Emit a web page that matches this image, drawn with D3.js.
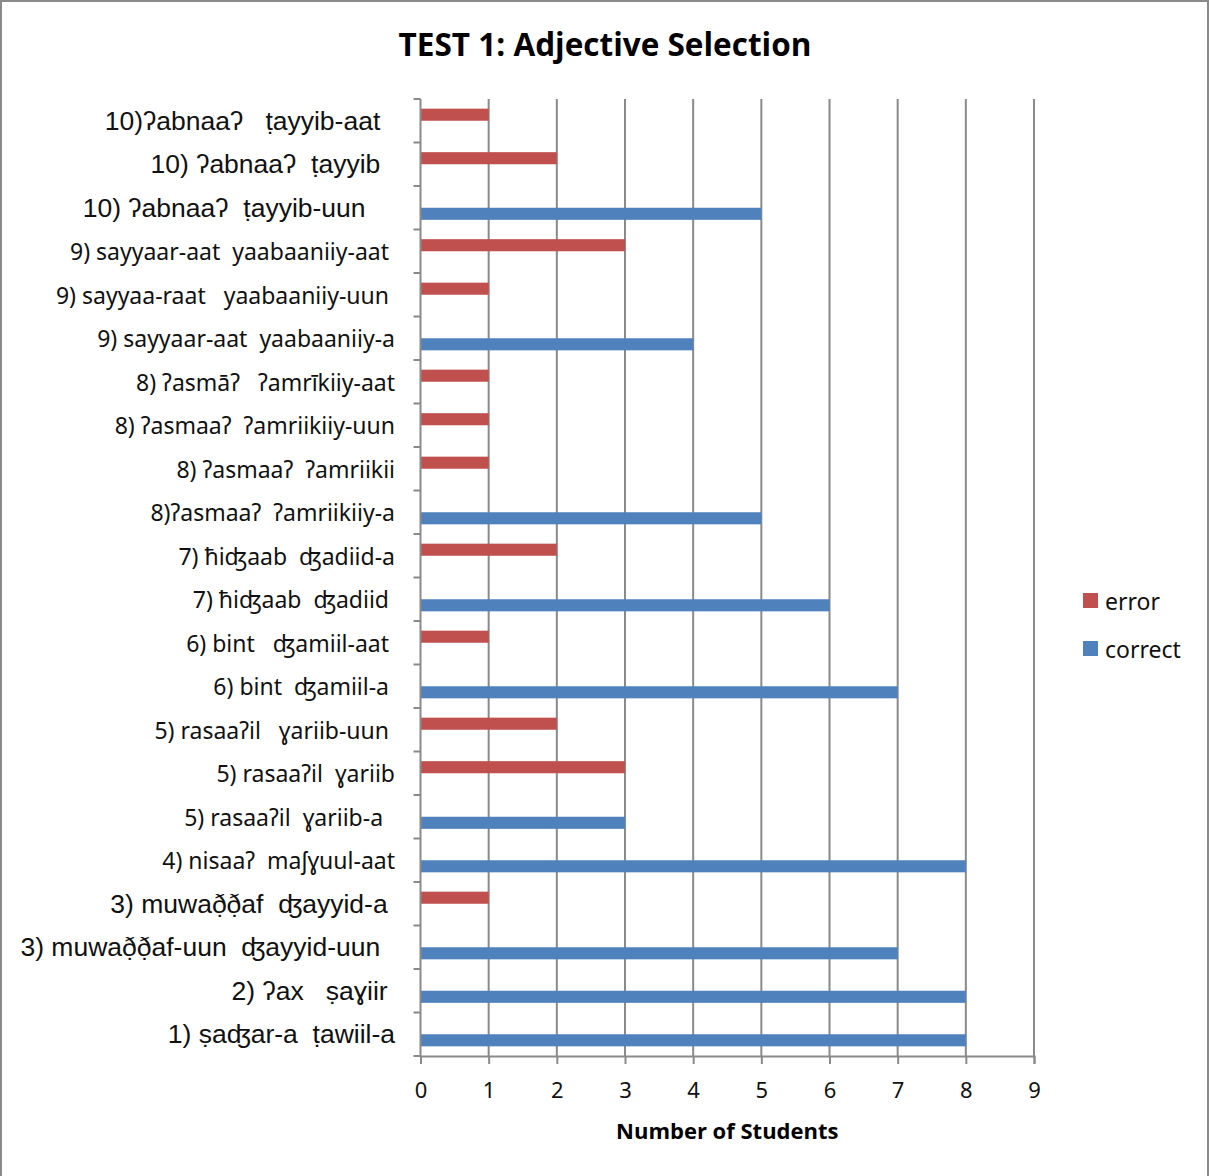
<!DOCTYPE html>
<html>
<head>
<meta charset="utf-8">
<title>TEST 1: Adjective Selection</title>
<script src="https://d3js.org/d3.v7.min.js"></script>
<style>
    body, html {
        margin: 0;
        padding: 0;
        background: #fff;
    }
    .cat-label {
        white-space: pre;
        text-anchor: end;
        dominant-baseline: central;
        fill: #111;
    }
    .calibri { font-family: 'Noto Sans', 'DejaVu Sans', sans-serif; font-size: 23px; }
    .arial { font-family: 'Liberation Sans', Arial, 'DejaVu Sans', sans-serif; font-size: 26.5px; }
</style>
</head>
<body>
<script>
// categories, top to bottom (trailing spaces kept as in the original labels)
const categories = [
    "10)\u0294abnaa\u0294   \u1e6dayyib-aat  ",
    "10) \u0294abnaa\u0294  \u1e6dayyib  ",
    "10) \u0294abnaa\u0294  \u1e6dayyib-uun    ",
    "9) sayyaar-aat  yaabaaniiy-aat ",
    "9) sayyaa-raat   yaabaaniiy-uun ",
    "9) sayyaar-aat  yaabaaniiy-a",
    "8) \u0294asm\u0101\u0294   \u0294amr\u012bkiiy-aat",
    "8) \u0294asmaa\u0294  \u0294amriikiiy-uun",
    "8) \u0294asmaa\u0294  \u0294amriikii",
    "8)\u0294asmaa\u0294  \u0294amriikiiy-a",
    "7) \u0127i\u02a4aab  \u02a4adiid-a",
    "7) \u0127i\u02a4aab  \u02a4adiid ",
    "6) bint   \u02a4amiil-aat ",
    "6) bint  \u02a4amiil-a ",
    "5) rasaa\u0294il   \u0263ariib-uun ",
    "5) rasaa\u0294il  \u0263ariib",
    "5) rasaa\u0294il  \u0263ariib-a  ",
    "4) nisaa\u0294  ma\u0283\u0263uul-aat",
    "3) muwa\u00f0\u0323\u00f0\u0323af  \u02a4ayyid-a ",
    "3) muwa\u00f0\u0323\u00f0\u0323af-uun  \u02a4ayyid-uun  ",
    "2) \u0294ax   \u1e63a\u0263iir ",
    "1) \u1e63a\u02a4ar-a  \u1e6dawiil-a"
];

const errorValues   = [1, 2, 0, 3, 1, 0, 1, 1, 1, 0, 2, 0, 1, 0, 2, 3, 0, 0, 1, 0, 0, 0];
const correctValues = [0, 0, 5, 0, 0, 4, 0, 0, 0, 5, 0, 6, 0, 7, 0, 0, 3, 8, 0, 7, 8, 8];

const seriesKeys = ["error", "correct"];
const seriesColors = ["#C0504D", "#4F81BD"];
const xTicks = [0, 1, 2, 3, 4, 5, 6, 7, 8, 9];

const data = categories.map((c, i) => ({
    label: c,
    error: errorValues[i],
    correct: correctValues[i]
}));

// labels set in an Arial-like face in the original
const arialRows = new Set([0, 1, 2, 18, 19, 20, 21]);

const width = 1209, height = 1176;
const margin = {top: 99, left: 420.5};
const plotBottom = 1056;
const plotRight = 1034;

const svg = d3.select("body").append("svg")
    .attr("width", width)
    .attr("height", height);

// outer frame
svg.append("rect")
    .attr("x", 1).attr("y", 1)
    .attr("width", width - 2).attr("height", height + 4)
    .attr("fill", "#fff")
    .attr("stroke", "#8a8a8a")
    .attr("stroke-width", 2);

const x = d3.scaleLinear().domain([0, 9]).range([margin.left, plotRight]);
const y0 = d3.scaleBand().domain(d3.range(categories.length)).range([margin.top, plotBottom]).padding(0);
const y1 = d3.scaleBand().domain(seriesKeys).range([0, y0.bandwidth()]).paddingInner(0).paddingOuter(0.8);

// title
svg.append("text")
    .attr("x", 605).attr("y", 56)
    .attr("text-anchor", "middle")
    .style("font-family", "'Open Sans', 'Noto Sans', sans-serif")
    .style("font-weight", "bold")
    .style("font-size", "31.5px")
    .text("TEST 1: Adjective Selection");

// vertical gridlines
svg.append("g")
    .selectAll("line")
    .data(xTicks.slice(1))
    .join("line")
    .attr("x1", d => x(d)).attr("x2", d => x(d))
    .attr("y1", margin.top).attr("y2", plotBottom)
    .attr("stroke", "#8a8a8a")
    .attr("stroke-width", 2);

// bars
const rows = svg.append("g")
    .selectAll("g")
    .data(data)
    .join("g")
    .attr("transform", (d, i) => `translate(0,${y0(i)})`);

rows.selectAll("rect")
    .data(d => seriesKeys.map((k, j) => ({key: k, value: d[k], color: seriesColors[j]})))
    .join("rect")
    .attr("x", x(0))
    .attr("y", d => y1(d.key))
    .attr("width", d => x(d.value) - x(0))
    .attr("height", y1.bandwidth())
    .attr("fill", d => d.color);

// bottom axis
const xAxis = svg.append("g")
    .attr("transform", `translate(0,${plotBottom})`)
    .call(d3.axisBottom(x).tickValues(xTicks).tickSize(8).tickPadding(18));
xAxis.select(".domain").attr("stroke", "#8a8a8a").attr("stroke-width", 2);
xAxis.selectAll(".tick line").attr("stroke", "#8a8a8a").attr("stroke-width", 2);
xAxis.selectAll(".tick text")
    .style("font-family", "'Noto Sans', sans-serif")
    .style("font-size", "22px")
    .attr("fill", "#111");

// left axis line and band boundary ticks
svg.append("line")
    .attr("x1", x(0)).attr("x2", x(0))
    .attr("y1", margin.top).attr("y2", plotBottom)
    .attr("stroke", "#8a8a8a").attr("stroke-width", 2);

svg.append("g")
    .selectAll("line")
    .data(d3.range(categories.length + 1))
    .join("line")
    .attr("x1", x(0) - 7).attr("x2", x(0))
    .attr("y1", i => margin.top + i * y0.step())
    .attr("y2", i => margin.top + i * y0.step())
    .attr("stroke", "#8a8a8a").attr("stroke-width", 2);

// category labels
svg.append("g")
    .selectAll("text")
    .data(data)
    .join("text")
    .attr("class", (d, i) => "cat-label " + (arialRows.has(i) ? "arial" : "calibri"))
    .attr("x", 395)
    .attr("y", (d, i) => y0(i) + y0.bandwidth() / 2)
    .text(d => d.label);

// axis title
svg.append("text")
    .attr("x", (margin.left + plotRight) / 2).attr("y", 1139)
    .attr("text-anchor", "middle")
    .style("font-family", "'Open Sans', 'Noto Sans', sans-serif")
    .style("font-weight", "bold")
    .style("font-size", "22px")
    .text("Number of Students");

// legend
const legend = svg.append("g")
    .selectAll("g")
    .data(seriesKeys)
    .join("g")
    .attr("transform", (d, i) => `translate(1083,${593 + i * 48})`);

legend.append("rect")
    .attr("width", 15).attr("height", 15)
    .attr("fill", (d, i) => seriesColors[i]);

legend.append("text")
    .attr("x", 22).attr("y", 8)
    .attr("dominant-baseline", "central")
    .style("font-family", "'Noto Sans', sans-serif")
    .style("font-size", "23px")
    .attr("fill", "#111")
    .text(d => d);
</script>
</body>
</html>
